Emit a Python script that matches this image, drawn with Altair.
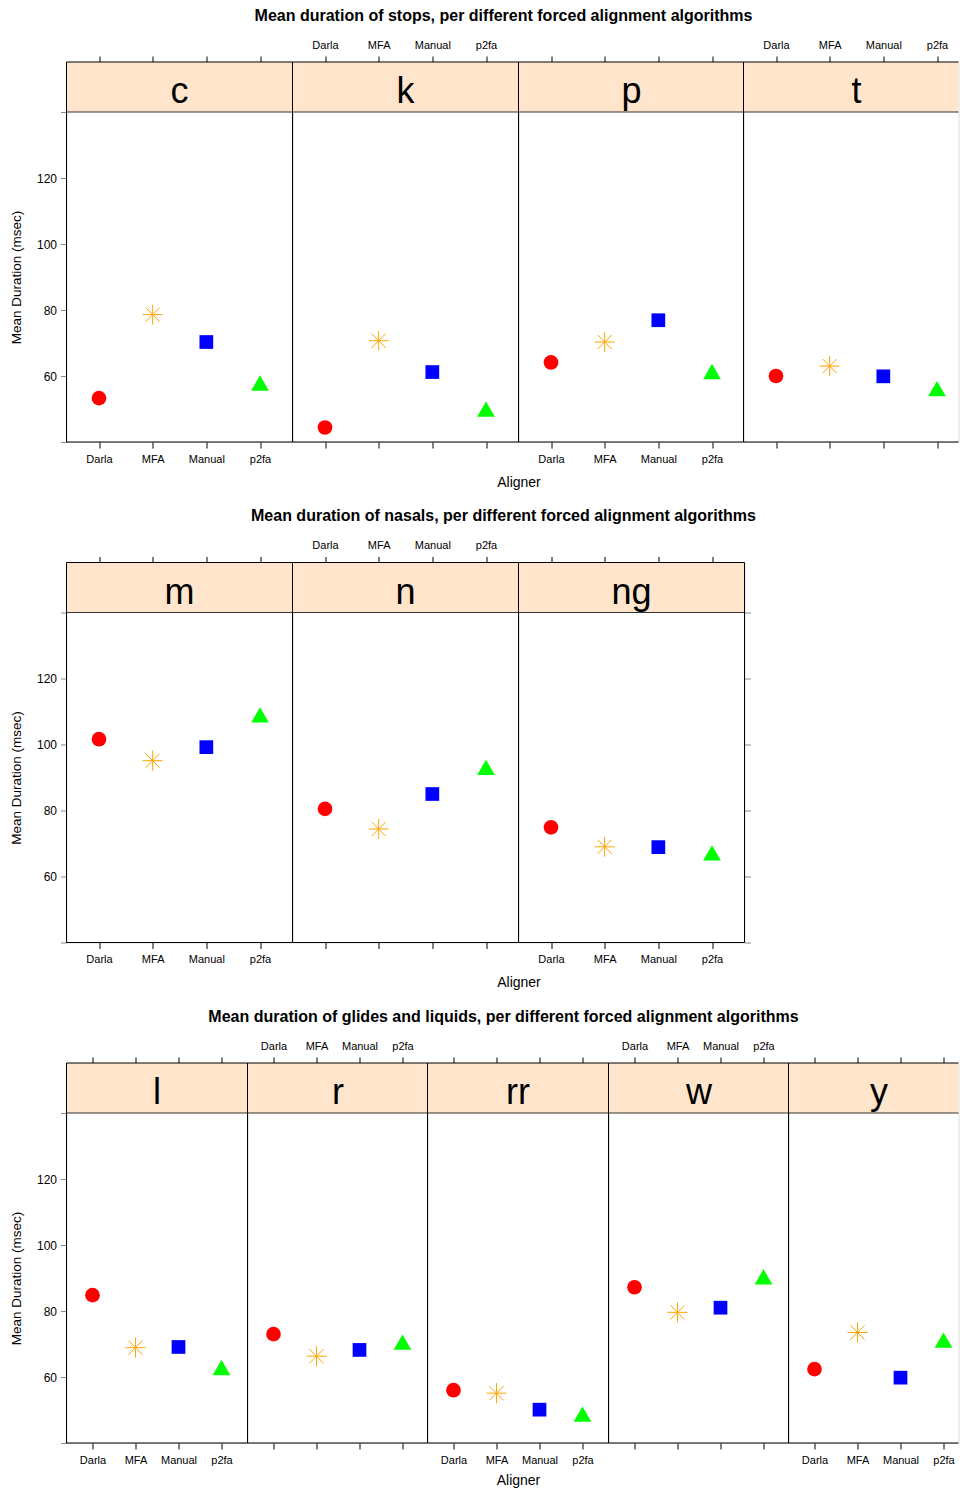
import altair as alt
import pandas as pd

aligners = ["Darla", "MFA", "Manual", "p2fa"]

stop_phones = ["c", "k", "p", "t"]
stop_darla = [53.3, 44.4, 64.1, 60.0]
stop_mfa = [78.6, 70.7, 70.3, 63.0]
stop_manual = [70.3, 61.2, 76.9, 59.9]
stop_p2fa = [57.1, 49.2, 60.6, 55.4]

nasal_phones = ["m", "n", "ng"]
nasal_darla = [101.6, 80.5, 74.9]
nasal_mfa = [95.1, 74.4, 69.0]
nasal_manual = [99.2, 85.0, 68.9]
nasal_p2fa = [108.2, 92.3, 66.4]

glide_phones = ["l", "r", "rr", "w", "y"]
glide_darla = [84.8, 73.0, 56.0, 87.2, 62.4]
glide_mfa = [68.9, 66.3, 55.1, 79.6, 73.5]
glide_manual = [69.1, 68.2, 50.1, 81.0, 59.8]
glide_p2fa = [62.1, 69.8, 48.0, 89.6, 70.4]

titles = [
    "Mean duration of stops, per different forced alignment algorithms",
    "Mean duration of nasals, per different forced alignment algorithms",
    "Mean duration of glides and liquids, per different forced alignment algorithms",
]
y_title = "Mean Duration (msec)"
x_title = "Aligner"
y_ticks = [40, 60, 80, 100, 120, 140]

FONT = "Liberation Sans"
PPU = 3.3
PLOT_H = 330
STRIP_H = 50
H = PLOT_H + STRIP_H
Y_MIN = 40
Y_MAX = Y_MIN + H / PPU

STAR = "M-1,0L1,0M0,-1L0,1M-0.7071,-0.7071L0.7071,0.7071M-0.7071,0.7071L0.7071,-0.7071"
TRI = "M0,-1.1547L1,0.5774L-1,0.5774Z"
styles = {
    "Darla": dict(shape="circle", color="#FF0000", size=216, filled=True),
    "MFA": dict(shape=STAR, color="#FFA500", size=400, filled=False, strokeWidth=1),
    "Manual": dict(shape="square", color="#0000FF", size=188, filled=True),
    "p2fa": dict(shape=TRI, color="#00FF00", size=313, filled=True),
}


def build_df(phones, darla, mfa, manual, p2fa):
    rows = []
    for i, ph in enumerate(phones):
        for al, vals in zip(aligners, [darla, mfa, manual, p2fa]):
            rows.append({"Phone": ph, "Aligner": al, "Duration": vals[i]})
    return pd.DataFrame(rows)


def panel(df, phone, idx, width, x_range, aligner_x, aligner_y, right_ticks, right_border, row_title):
    xs = alt.Scale(domain=aligners, range=x_range, padding=0)
    ys = alt.Scale(domain=[Y_MIN, Y_MAX], nice=False, zero=False)
    bottom_labels = (idx % 2 == 0)
    common = dict(tickSize=6, labelFontSize=11, labelAngle=0, domain=False,
                  grid=False, tickColor="black", labelColor="black")
    if aligner_x is not None:
        bottom_axis = alt.Axis(orient="bottom", labels=bottom_labels, labelPadding=5,
                               title=x_title, titleX=aligner_x, titleY=aligner_y,
                               titleBaseline="middle", titleAlign="center",
                               titleFontSize=14, titleFontWeight="normal", **common)
    else:
        bottom_axis = alt.Axis(orient="bottom", labels=bottom_labels, labelPadding=5,
                               title=None, **common)
    top_axis = alt.Axis(orient="top", labels=not bottom_labels, labelPadding=6,
                        title=None, **common)
    if idx == 0:
        left_axis = alt.Axis(orient="left", values=y_ticks,
                             labelExpr="(datum.value == 40 || datum.value == 140) ? '' : datum.label",
                             tickSize=6, labelFontSize=12, labelPadding=4, domain=False, grid=False,
                             title=y_title, titleX=-50, titleY=STRIP_H + PLOT_H / 2,
                             titleBaseline="middle", titleAlign="center", titleAngle=270,
                             titleFontSize=13.5, titleFontWeight="normal")
    else:
        left_axis = None
    if right_ticks:
        right_axis = alt.Axis(orient="right", values=y_ticks, labels=False, tickSize=6,
                              domain=False, grid=False, title=None)
    else:
        right_axis = None

    pdata = df[df.Phone == phone]
    strip_df = pd.DataFrame({"Phone": [phone]})

    strip = alt.Chart(strip_df).mark_rect(fill="#FFE5CC", strokeWidth=0).encode(
        x=alt.value(0), x2=alt.value(width), y=alt.value(0), y2=alt.value(STRIP_H))
    label = alt.Chart(strip_df).mark_text(fontSize=36, font=FONT, baseline="alphabetic",
                                          align="center", color="black").encode(
        x=alt.value((x_range[0] + x_range[1]) / 2), y=alt.value(41), text="Phone:N")
    rules = [
        alt.Chart(strip_df).mark_rule(color="black", strokeWidth=1).encode(
            x=alt.value(0), y=alt.value(0), y2=alt.value(H)),
        alt.Chart(strip_df).mark_rule(color="black", strokeWidth=1).encode(
            x=alt.value(0), x2=alt.value(width), y=alt.value(H)),
        alt.Chart(strip_df).mark_rule(color="black", strokeWidth=1).encode(
            x=alt.value(0), x2=alt.value(width), y=alt.value(0)),
        alt.Chart(strip_df).mark_rule(color="#333333", strokeWidth=1).encode(
            x=alt.value(0), x2=alt.value(width), y=alt.value(STRIP_H)),
    ]
    if right_border:
        rules.append(alt.Chart(strip_df).mark_rule(color="black", strokeWidth=1).encode(
            x=alt.value(width), y=alt.value(0), y2=alt.value(H)))

    layers = [strip, label] + rules
    if row_title is not None:
        layers.append(alt.Chart(strip_df).mark_text(
            text=row_title, fontSize=16, fontWeight="bold", font=FONT,
            baseline="alphabetic", align="center", color="black").encode(
            x=alt.value(437), y=alt.value(-41.2)))
    for k, al in enumerate(aligners):
        st = styles[al]
        mk = dict(shape=st["shape"], size=st["size"], filled=st["filled"], opacity=1)
        if st["filled"]:
            mk["color"] = st["color"]
        else:
            mk["stroke"] = st["color"]
            mk["fill"] = "transparent"
            mk["strokeWidth"] = st["strokeWidth"]
        ch = alt.Chart(pdata[pdata.Aligner == al]).mark_point(**mk).encode(
            x=alt.X("Aligner:N", scale=xs, axis=bottom_axis if k == 0 else None),
            y=alt.Y("Duration:Q", scale=ys, axis=left_axis if k == 0 else None),
        )
        layers.append(ch)
    top = alt.Chart(pdata).mark_point(opacity=0).encode(
        x=alt.X("Aligner:N", scale=xs, axis=top_axis),
        y=alt.Y("Duration:Q", scale=ys, axis=right_axis),
    )
    layers.append(top)
    return alt.layer(*layers).resolve_axis(x="independent", y="independent").properties(
        width=width, height=H)


def row(df, phones, widths, x_range, title, aligner_idx, aligner_x, aligner_y, right_ticks):
    panels = []
    n = len(phones)
    for i, ph in enumerate(phones):
        last = (i == n - 1)
        panels.append(panel(df, ph, i, widths[i], x_range,
                            aligner_x if i == aligner_idx else None, aligner_y,
                            right_ticks and last,
                            (not last) or right_ticks,
                            title if i == 0 else None))
    return alt.hconcat(*panels, spacing=0, bounds="flush")


df_stops = build_df(stop_phones, stop_darla, stop_mfa, stop_manual, stop_p2fa)
df_nasals = build_df(nasal_phones, nasal_darla, nasal_mfa, nasal_manual, nasal_p2fa)
df_glides = build_df(glide_phones, glide_darla, glide_mfa, glide_manual, glide_p2fa)

r1 = row(df_stops, stop_phones, [226, 226, 225, 215], [32.5, 193.5], titles[0], 1, 226, 40, False)
r2 = row(df_nasals, nasal_phones, [226, 226, 226], [32.5, 193.5], titles[1], 1, 226, 40, True)
r3 = row(df_glides, glide_phones, [181, 180, 181, 180, 170], [26, 155], titles[2], 2, 90.5, 37, False)

chart = alt.vconcat(r1, r2, r3, spacing=17.5).properties(
    padding={"left": 0.5, "top": -1, "right": 0, "bottom": 0}
).configure_view(stroke="transparent").configure_axis(
    labelFont=FONT, titleFont=FONT, labelColor="black", tickColor="black",
    titleColor="black", grid=False, domain=False, tickWidth=1
).configure(font=FONT)

chart.save("out.html", embed_options={"renderer": "svg", "actions": False})
